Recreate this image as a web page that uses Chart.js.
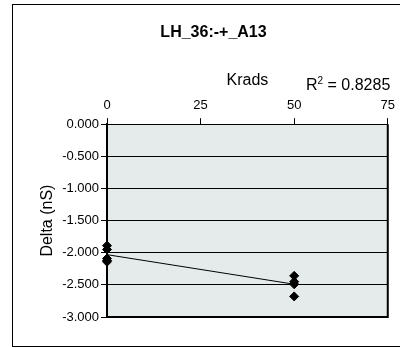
<!DOCTYPE html>
<html>
<head>
<meta charset="utf-8">
<script src="https://cdn.jsdelivr.net/npm/chart.js@4.4.0/dist/chart.umd.min.js"></script>
<style>
  html, body { margin: 0; padding: 0; background: #fff; }
  #wrap { width: 400px; height: 348px; }
</style>
</head>
<body>
<div id="wrap"><canvas id="Chart1" width="400" height="348"></canvas></div>
<script>
// data
var krads0 = [0, 0, 0, 0, 0];
var delta0 = [-1.89, -1.95, -2.09, -2.12, -2.14];
var krads50 = [50, 50, 50, 50];
var delta50 = [-2.36, -2.45, -2.49, -2.68];
var trendX = [0, 50];
var trendY = [-2.03, -2.49];
var xTicks = [0, 25, 50, 75];
var yTicks = [0, -0.5, -1, -1.5, -2, -2.5, -3];
var rSquared = "0.8285";

var points = [];
for (var i = 0; i < krads0.length; i++) points.push({x: krads0[i], y: delta0[i]});
for (var j = 0; j < krads50.length; j++) points.push({x: krads50[j], y: delta50[j]});
var trend = trendX.map(function (x, i) { return {x: x, y: trendY[i]}; });

var FONT = "'Liberation Sans', Arial, sans-serif";

var decor = {
    id: 'decor',
    beforeDraw: function (chart) {
        var ctx = chart.ctx, a = chart.chartArea;
        ctx.save();
        ctx.fillStyle = '#fff';
        ctx.fillRect(0, 0, chart.width, chart.height);
        ctx.strokeStyle = '#000';
        ctx.lineWidth = 1;
        ctx.strokeRect(12.5, 4.5, 400, 342);
        ctx.fillStyle = '#e5ebeb';
        ctx.fillRect(a.left, a.top, a.right - a.left, a.bottom - a.top);
        ctx.restore();
    },
    beforeDatasetsDraw: function (chart) {
        var ctx = chart.ctx, a = chart.chartArea;
        ctx.save();
        ctx.strokeStyle = '#000';
        ctx.lineWidth = 2;
        ctx.beginPath();
        ctx.moveTo(a.left, a.bottom);
        ctx.lineTo(a.right, a.bottom);
        ctx.lineTo(a.right, a.top);
        ctx.stroke();
        ctx.restore();
    },
    afterDraw: function (chart) {
        var ctx = chart.ctx, a = chart.chartArea;
        ctx.save();
        ctx.fillStyle = '#000';
        ctx.textBaseline = 'alphabetic';
        var y = a.top - 34;
        var x = 306;
        ctx.font = '16px ' + FONT;
        ctx.fillText('R', x, y);
        x += ctx.measureText('R').width;
        ctx.font = '10px ' + FONT;
        ctx.fillText('2', x, y - 6);
        x += ctx.measureText('2').width;
        ctx.font = '16px ' + FONT;
        ctx.fillText(' = ' + rSquared, x, y);
        ctx.restore();
    }
};

var ctx1 = document.getElementById('Chart1').getContext('2d');
var myChart = new Chart(ctx1, {
    type: 'scatter',
    data: {
        datasets: [{
            data: points,
            pointStyle: 'rectRot',
            pointRadius: 4.5,
            pointBorderWidth: 1,
            backgroundColor: '#000',
            borderColor: '#000',
            clip: false,
            order: 1
        }, {
            data: trend,
            showLine: true,
            pointRadius: 0,
            borderColor: '#000',
            borderWidth: 1,
            clip: false,
            order: 2
        }]
    },
    options: {
        responsive: false,
        animation: false,
        events: [],
        layout: { padding: { left: 38, right: 11, top: 0, bottom: 31 } },
        plugins: {
            legend: { display: false },
            tooltip: { enabled: false },
            title: {
                display: true,
                text: 'LH_36:-+_A13',
                color: '#000',
                font: { family: FONT, size: 16, weight: 'bold' },
                padding: { top: 23, bottom: 19 }
            }
        },
        scales: {
            x: {
                type: 'linear',
                position: 'top',
                min: 0, max: 75,
                afterBuildTicks: function (s) { s.ticks = xTicks.map(function (v) { return {value: v}; }); },
                afterFit: function (s) { s.height = 63; },
                ticks: { color: '#000', font: { family: FONT, size: 13 }, padding: 5, maxRotation: 0 },
                grid: { drawOnChartArea: false, drawTicks: true, tickLength: 6, color: '#000' },
                border: { color: '#000', width: 1 },
                title: {
                    display: true, text: 'Krads', color: '#000',
                    font: { family: FONT, size: 16 }, padding: { top: 10, bottom: 0 }
                }
            },
            y: {
                type: 'linear',
                min: -3, max: 0,
                afterBuildTicks: function (s) { s.ticks = yTicks.map(function (v) { return {value: v}; }); },
                afterFit: function (s) { s.width = 69; },
                ticks: {
                    color: '#000', font: { family: FONT, size: 13 }, padding: 2,
                    callback: function (v) { return v.toFixed(3); }
                },
                grid: { color: '#000', lineWidth: 1, tickLength: 6 },
                border: { color: '#000', width: 2 },
                title: {
                    display: true, text: 'Delta (nS)', color: '#000',
                    font: { family: FONT, size: 16 }, padding: 0
                }
            }
        }
    },
    plugins: [decor]
});
</script>
</body>
</html>
